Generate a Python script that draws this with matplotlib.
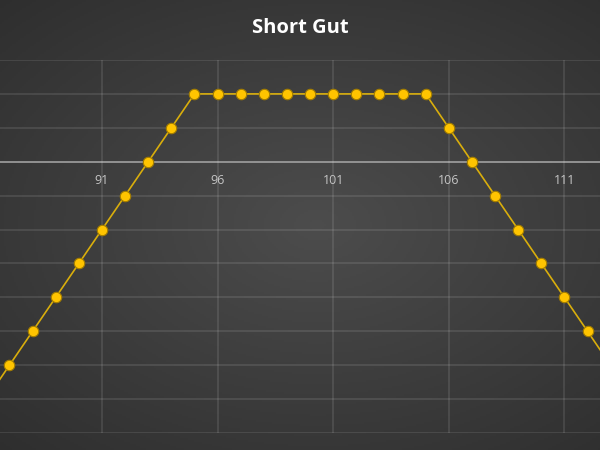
import numpy as np
import matplotlib
matplotlib.use("Agg")
import matplotlib.pyplot as plt

# data
x_vals = [86, 87, 88, 89, 90, 91, 92, 93, 94, 95, 96, 97, 98, 99, 100,
          101, 102, 103, 104, 105, 106, 107, 108, 109, 110, 111, 112, 113]
y_vals = [-7, -6, -5, -4, -3, -2, -1, 0, 1, 2, 2, 2, 2, 2, 2,
          2, 2, 2, 2, 2, 1, 0, -1, -2, -3, -4, -5, -6]
x_ticks = [91, 96, 101, 106, 111]
title = "Short Gut"

fig = plt.figure(figsize=(6, 4.5), dpi=100)

# radial gradient background, lighter towards the middle
bg = fig.add_axes([0, 0, 1, 1], zorder=0)
gx, gy = np.meshgrid(np.linspace(-1, 1, 300), np.linspace(-1, 1, 225))
r = np.sqrt((gx * 0.85 - 0.05) ** 2 + (gy * 0.95) ** 2)
shade = np.clip(0.30 - 0.09 * r, 0.17, 0.30)
bg.imshow(np.dstack([shade, shade, shade]), aspect="auto", extent=[0, 1, 0, 1])
bg.axis("off")

ax = fig.add_axes([0, 17 / 450, 1, 373 / 450], zorder=1)
ax.patch.set_alpha(0)
ax.set_xlim(86.59, 112.54)
ax.set_ylim(-8, 3)

ax.set_yticks(range(-8, 4))
ax.set_xticks(x_ticks)
ax.grid(True, color="white", alpha=0.11, linewidth=1.3)
ax.axhline(0, color="#9a9a9a", linewidth=1.1, zorder=1.5)
for s in ax.spines.values():
    s.set_visible(False)
ax.tick_params(length=0, labelleft=False, labelbottom=False)

for t in x_ticks:
    ax.text(t, -0.56, str(t), ha="center", va="center",
            color="#c4c4c4", fontsize=9, family="Open Sans")

ax.plot(x_vals, y_vals, color="#d9ae0c", linewidth=1.2, zorder=3,
        marker="o", markersize=7.5, markerfacecolor="#ffc400",
        markeredgecolor="#a37d00", markeredgewidth=0.8)

fig.text(0.5, 1 - 28 / 450, title, ha="center", va="center",
         color="white", fontsize=14.5, fontweight="bold", family="Open Sans")

fig.savefig("out.png", dpi=100)
